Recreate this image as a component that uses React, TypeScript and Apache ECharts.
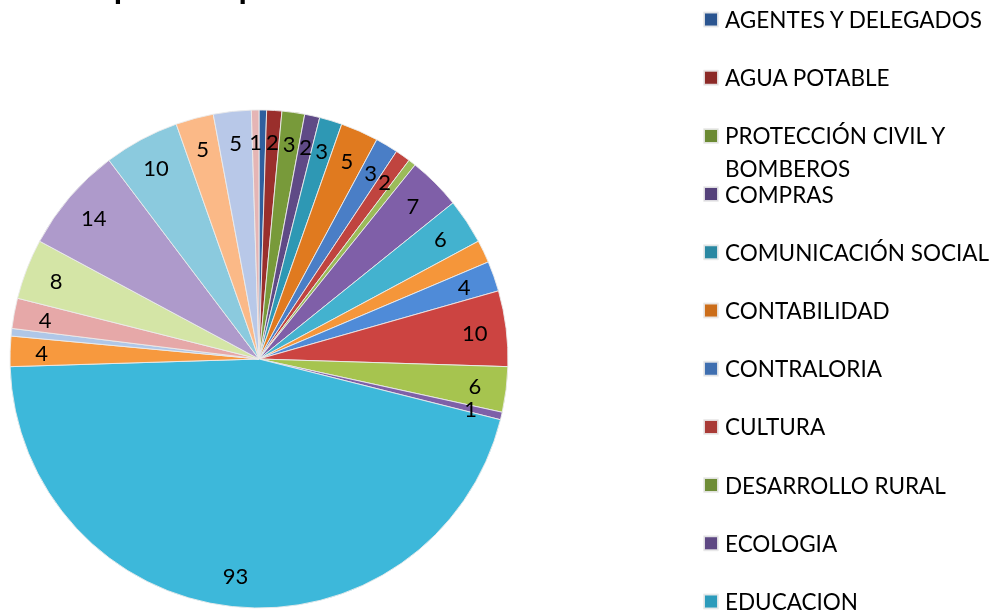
import React, { useEffect, useRef } from "react";
import * as echarts from "echarts";

const titleText = "Respuestas por Dirección";

const categories = [
  "AGENTES Y DELEGADOS",
  "AGUA POTABLE",
  "PROTECCIÓN CIVIL Y BOMBEROS",
  "COMPRAS",
  "COMUNICACIÓN SOCIAL",
  "CONTABILIDAD",
  "CONTRALORIA",
  "CULTURA",
  "DESARROLLO RURAL",
  "ECOLOGIA",
  "EDUCACION",
  "FOMENTO DEPORTIVO",
  "INGRESOS",
  "JURIDICO",
  "OBRAS PUBLICAS",
  "OFICIALIA MAYOR",
  "PRESIDENCIA",
  "REGISTRO CIVIL",
  "REGLAMENTOS",
  "SALUD",
  "SECRETARIA",
  "SEGURIDAD PUBLICA",
  "SERVICIOS PUBLICOS",
  "SINDICATURA",
  "TESORERIA",
  "TRANSITO",
];

// legend entries visible in the reference (the rest are cut off by the frame)
const legendNames = categories.slice(0, 11);

const values = [1, 2, 3, 2, 3, 5, 3, 2, 1, 7, 6, 3, 4, 10, 6, 1, 93, 4, 1, 4, 8, 14, 10, 5, 5, 1];

const sliceColors = [
  "#2F5F9E", "#9A2F2C", "#789A3A", "#5F4A86", "#2E98B4", "#E07A1F",
  "#4A7EC6", "#C0443F", "#9BBB59", "#7F5FA8", "#43B2CF", "#F5963A",
  "#4F8BD8", "#CC4441", "#A6C44F", "#7E60A8", "#3DB8DA", "#F7993E",
  "#AFC7E8", "#E6A8A8", "#D4E5A6", "#AE9ACB", "#8BCADE", "#FBB987",
  "#B8C8E8", "#E5B5B5",
];

const legendColors = [
  "#2B5590", "#8C2A27", "#6B8A33", "#55427A", "#2A88A2", "#CC6E1A",
  "#3F6FB0", "#A93B37", "#6E8C36", "#5E4883", "#2C9BBB",
];

const TWO_LINE = "PROTECCIÓN CIVIL Y BOMBEROS";
const TWO_LINE_FIRST = "PROTECCIÓN CIVIL Y";
const TWO_LINE_SECOND = "BOMBEROS";

export default function App() {
  const ref = useRef<HTMLDivElement>(null);
  useEffect(() => {
    if (!ref.current) return;
    const chart = echarts.init(ref.current, null, { renderer: "svg" });
    const font = "Lato, 'Liberation Sans', sans-serif";
    const legendFontSize = 22.5;
    const pieData = categories.map((name, i) => ({
      name,
      value: values[i],
      itemStyle: { color: sliceColors[i] },
    }));
    const labelData = categories.map((name, i) => ({
      name,
      value: values[i],
      itemStyle: { color: "rgba(0,0,0,0)" },
    }));
    chart.setOption({
      animation: false,
      title: {
        text: titleText,
        left: 55,
        top: -38,
        textStyle: { fontFamily: font, fontSize: 34, fontWeight: "bold", color: "#000" },
      },
      legend: {
        orient: "vertical",
        left: 703,
        top: 8,
        height: 3000,
        padding: 0,
        itemWidth: 14,
        itemHeight: 14,
        itemGap: 35.2,
        icon: "rect",
        selectedMode: false,
        data: legendNames.map((name, i) => ({
          name,
          itemStyle: { color: legendColors[i] },
        })),
        formatter: (name: string) => (name === TWO_LINE ? TWO_LINE_FIRST : name),
        textStyle: {
          fontFamily: font,
          fontSize: legendFontSize,
          lineHeight: 20,
          color: "#000",
          padding: [0, 0, 0, 2],
        },
      },
      graphic: [
        {
          type: "text",
          x: 725,
          y: 168,
          silent: true,
          style: {
            text: TWO_LINE_SECOND,
            font: `${legendFontSize}px ${font}`,
            fill: "#000",
            verticalAlign: "middle",
            align: "left",
          },
        },
      ],
      series: [
        {
          type: "pie",
          center: [259, 359],
          radius: 249,
          startAngle: 90,
          clockwise: true,
          silent: true,
          data: pieData,
          label: { show: false },
          labelLine: { show: false },
          itemStyle: { borderColor: "rgba(235,235,235,0.9)", borderWidth: 1 },
          emphasis: { disabled: true },
        },
        {
          type: "pie",
          center: [259, 359],
          radius: [180, 249],
          startAngle: 90,
          clockwise: true,
          silent: true,
          data: labelData,
          label: {
            show: true,
            position: "inside",
            formatter: "{c}",
            fontFamily: font,
            fontSize: 22,
            color: "#000",
            textBorderWidth: 0,
          },
          labelLine: { show: false },
          itemStyle: { borderWidth: 0 },
          emphasis: { disabled: true },
        },
      ],
    });
    return () => chart.dispose();
  }, []);
  return (
    <div
      ref={ref}
      style={{ position: "fixed", left: 0, top: 0, width: 994, height: 611 }}
    />
  );
}
